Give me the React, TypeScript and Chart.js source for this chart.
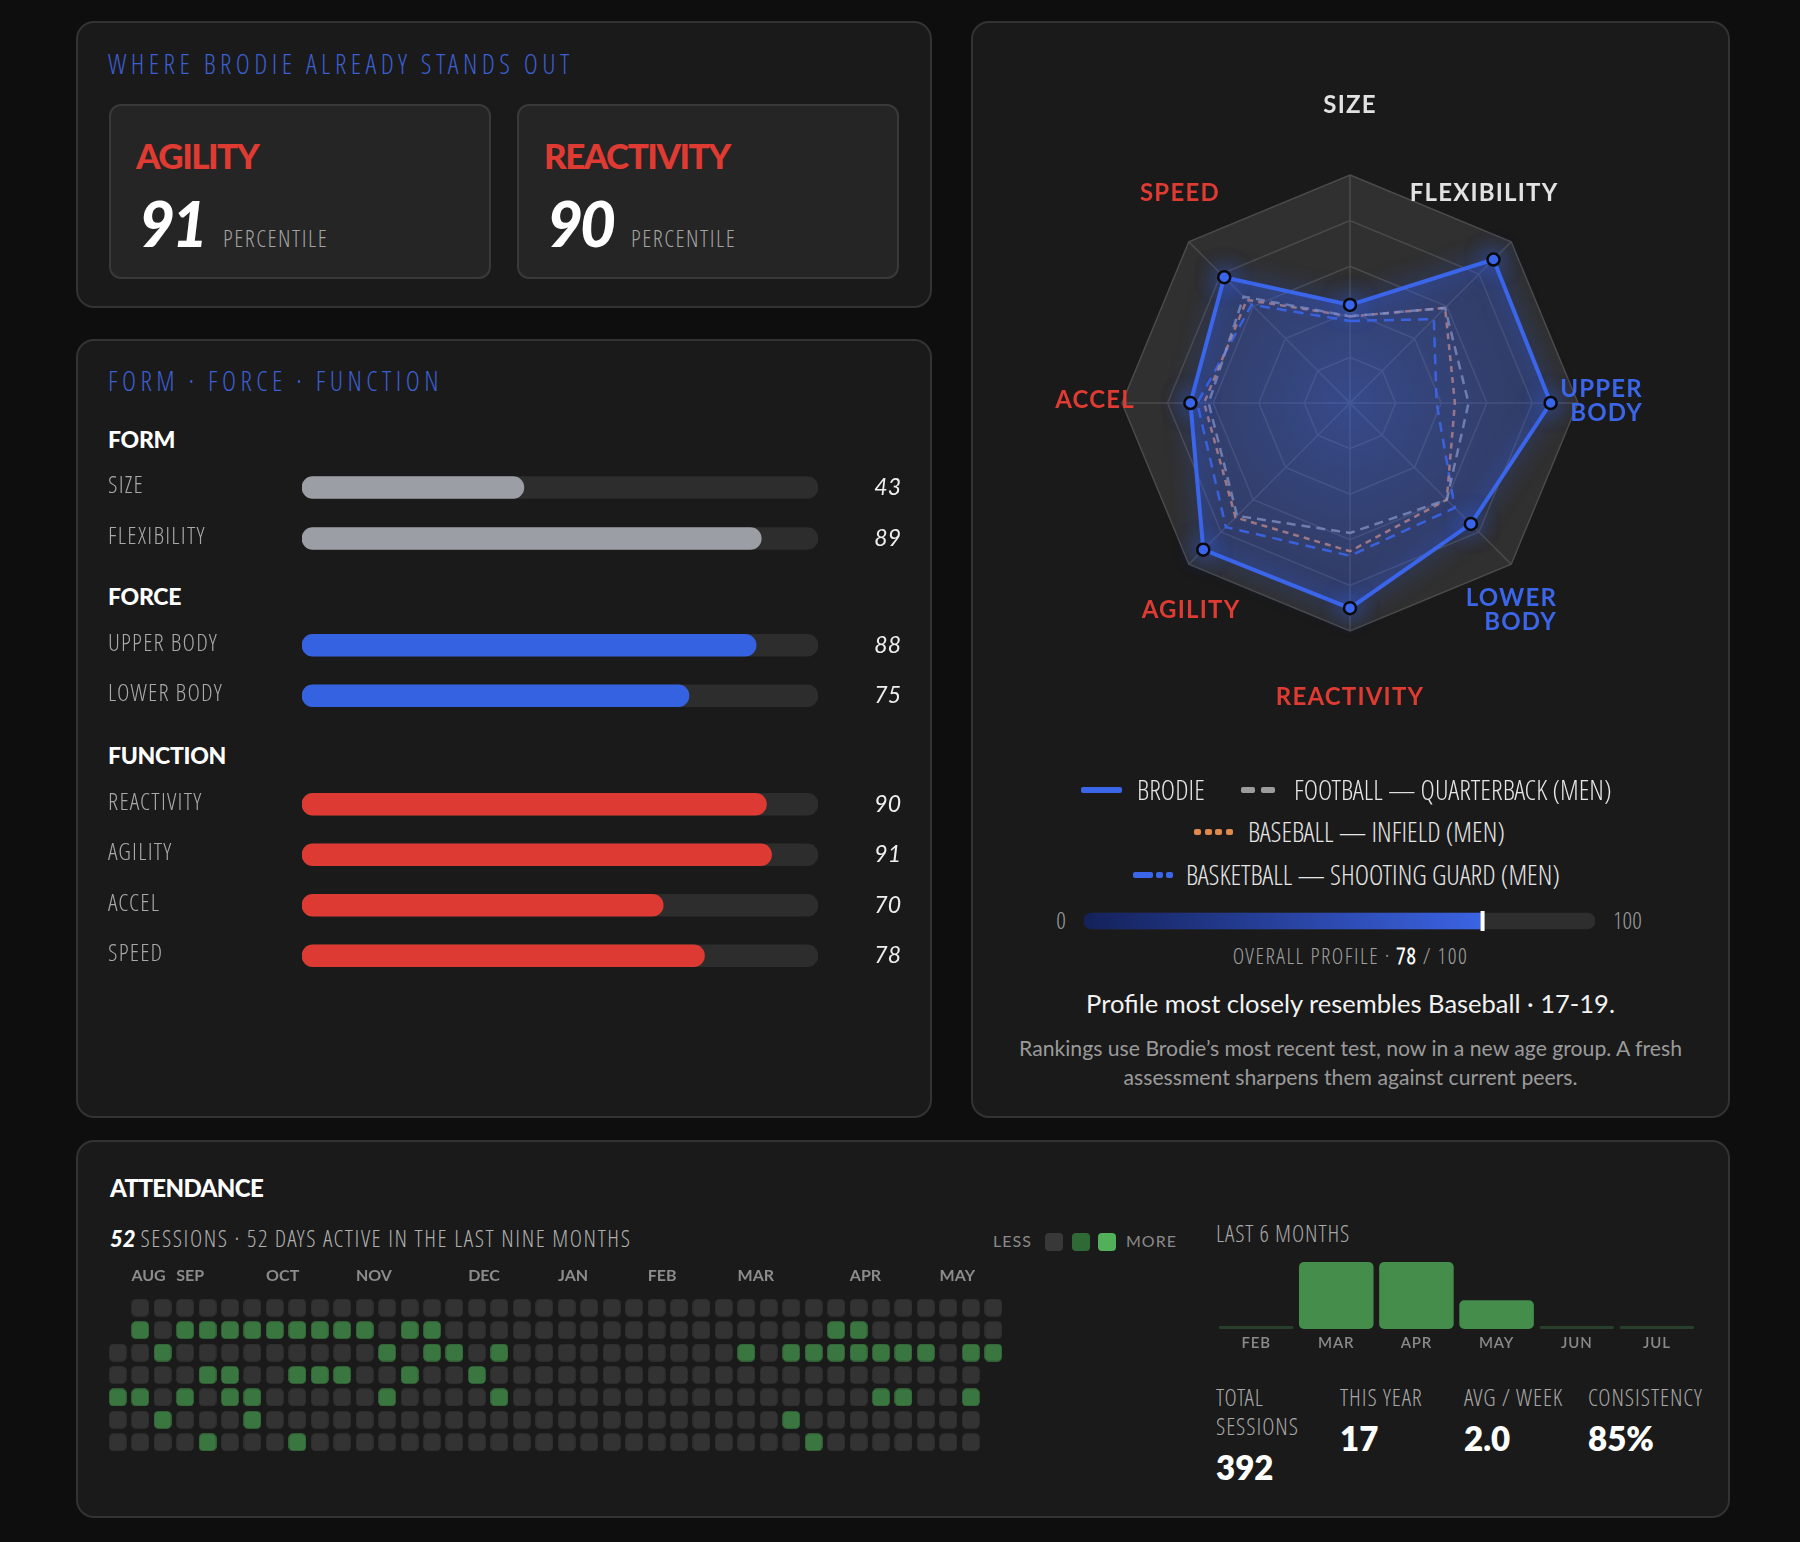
import React, { useEffect, useRef } from "react";
import { Chart, registerables } from "chart.js";

Chart.register(...registerables);

// ---------------- DATA ----------------
const KPI_LABELS = ["AGILITY", "REACTIVITY"];
const KPI_VALUES = [91, 90];

const FORM_LABELS = ["SIZE", "FLEXIBILITY"];
const FORM_VALUES = [43, 89];
const FORCE_LABELS = ["UPPER BODY", "LOWER BODY"];
const FORCE_VALUES = [88, 75];
const FUNCTION_LABELS = ["REACTIVITY", "AGILITY", "ACCEL", "SPEED"];
const FUNCTION_VALUES = [90, 91, 70, 78];

const RADAR_AXES = ["SIZE", "FLEXIBILITY", "UPPER BODY", "LOWER BODY", "REACTIVITY", "AGILITY", "ACCEL", "SPEED"];
const BRODIE = [43, 89, 88, 75, 90, 91, 70, 78];
const FOOTBALL_QB = [38, 59, 52, 60, 57, 70, 62, 66];
const BASEBALL_INF = [38, 59, 46, 60, 65, 71, 64, 64];
const BASKETBALL_SG = [36, 52, 38, 65, 67, 77, 67, 61];
const SERIES_NAMES = ["BRODIE", "FOOTBALL — QUARTERBACK (MEN)", "BASEBALL — INFIELD (MEN)", "BASKETBALL — SHOOTING GUARD (MEN)"];

const OVERALL_PROFILE = 78;

const HEAT_MONTHS = ["AUG", "SEP", "OCT", "NOV", "DEC", "JAN", "FEB", "MAR", "APR", "MAY"];
const HEAT_MONTH_WEEK = [1, 3, 7, 11, 16, 20, 24, 28, 33, 37];
const HEAT_WEEKS = 40;
const HEAT_FIRST_DAY_ROW = 2;
const HEAT_LAST_DAY_ROW = 2;
// active weeks for each weekday row (row 0 .. row 6)
const HEAT_ACTIVE_WEEKS_BY_DAY = [
  [],
  [1, 3, 4, 5, 6, 7, 8, 9, 10, 11, 13, 14, 32, 33],
  [2, 12, 14, 15, 17, 28, 30, 31, 32, 33, 34, 35, 36, 38, 39],
  [4, 5, 8, 9, 10, 13, 16],
  [0, 1, 3, 5, 6, 12, 17, 34, 35, 38],
  [2, 6, 30],
  [4, 8, 31],
];

const MONTHS6 = ["FEB", "MAR", "APR", "MAY", "JUN", "JUL"];
const SESSIONS6 = [0, 7, 7, 3, 0, 0];

const STAT_LABELS = ["TOTAL SESSIONS", "THIS YEAR", "AVG / WEEK", "CONSISTENCY"];
const STAT_VALUES = ["392", "17", "2.0", "85%"];

// ---------------- FONTS ----------------
const SANS = "Lato, 'Open Sans', 'Noto Sans', sans-serif";
Chart.defaults.font.family = SANS;
const COND = "'Open Sans Condensed Light', 'Roboto Condensed', 'Liberation Sans Narrow', Roboto, sans-serif";

// ---------------- STYLE / LAYOUT ----------------
const BLUE = "#3b66ea";
const RED = "#e03b32";
const TITLE_BLUE = "#3c5fd3";

const RADAR_LABEL_LAYOUT = [
  { fx: 0, fy: -1.305, align: "center", color: "#e2e2e2" },
  { fx: 0.588, fy: -0.921, align: "center", color: "#e2e2e2" },
  { fx: 1.285, fy: -0.007, align: "right", color: BLUE },
  { fx: 0.908, fy: 0.908, align: "right", color: BLUE },
  { fx: 0, fy: 1.29, align: "center", color: RED },
  { fx: -0.697, fy: 0.908, align: "center", color: RED },
  { fx: -1.118, fy: -0.01, align: "center", color: RED },
  { fx: -0.746, fy: -0.921, align: "center", color: RED },
];

function ChartCanvas({ x, y, w, h, make }: { x: number; y: number; w: number; h: number; make: () => any }) {
  const ref = useRef<HTMLCanvasElement | null>(null);
  useEffect(() => {
    if (!ref.current) return;
    const chart = new Chart(ref.current, make());
    return () => chart.destroy();
  }, []);
  return <canvas ref={ref} width={w} height={h} style={{ position: "absolute", left: x, top: y, width: w, height: h }} />;
}

function Txt({ x, cy, lh = 32, style, children }: { x: number; cy: number; lh?: number; style?: React.CSSProperties; children: any }) {
  return (
    <div style={{ position: "absolute", left: x, top: cy - lh / 2, height: lh, lineHeight: lh + "px", whiteSpace: "nowrap", ...style }}>
      {children}
    </div>
  );
}

const cardStyle = (x: number, y: number, w: number, h: number, bg = "#1a1a1a", border = "#333333", r = 18): React.CSSProperties => ({
  position: "absolute",
  left: x,
  top: y,
  width: w,
  height: h,
  boxSizing: "border-box",
  background: bg,
  border: `2px solid ${border}`,
  borderRadius: r,
});

// ---------------- CHART CONFIGS ----------------
function barLabelsPlugin(labels: string[], values: number[]) {
  return {
    id: "barLabels",
    afterDraw(chart: any) {
      const { ctx, scales, width } = chart;
      ctx.save();
      ctx.textBaseline = "middle";
      labels.forEach((lab, i) => {
        const y = scales.y.getPixelForValue(i);
        ctx.save();
        ctx.font = `300 24px ${COND}`;
        (ctx as any).letterSpacing = "1.2px";
        ctx.fillStyle = "#a9a9a9";
        ctx.textAlign = "left";
        ctx.fillText(lab, 0, y - 1);
        ctx.restore();
        ctx.font = `italic 400 23px ${SANS}`;
        ctx.fillStyle = "#efefef";
        ctx.textAlign = "right";
        ctx.fillText(String(values[i]), width - 6, y);
      });
      ctx.restore();
    },
  };
}

function barGroupConfig(labels: string[], values: number[], color: string) {
  return () => ({
    type: "bar",
    data: {
      labels,
      datasets: [
        { data: values, backgroundColor: color, barThickness: 22, borderRadius: 11, borderSkipped: false, grouped: false, order: 0 },
        { data: labels.map(() => 100), backgroundColor: "#2d2d2d", barThickness: 22, borderRadius: 11, borderSkipped: false, grouped: false, order: 1 },
      ],
    },
    options: {
      indexAxis: "y",
      animation: false,
      responsive: false,
      events: [],
      layout: { padding: { left: 194, right: 89, top: 0, bottom: 0 }, autoPadding: false },
      plugins: { legend: { display: false }, tooltip: { enabled: false } },
      scales: {
        x: { display: false, min: 0, max: 100 },
        y: { display: false },
      },
    },
    plugins: [barLabelsPlugin(labels, values)],
  });
}

const radarGlow = {
  id: "radarGlow",
  beforeDatasetDraw(chart: any, args: any) {
    if (args.index === 0) {
      chart.ctx.save();
      chart.ctx.shadowColor = "rgba(50,100,255,0.8)";
      chart.ctx.shadowBlur = 22;
    }
  },
  afterDatasetDraw(chart: any, args: any) {
    if (args.index === 0) chart.ctx.restore();
  },
};

const radarLabels = {
  id: "radarLabels",
  afterDraw(chart: any) {
    const { ctx } = chart;
    const r = chart.scales.r;
    ctx.save();
    ctx.font = `700 24px ${SANS}`;
    (ctx as any).letterSpacing = "1.2px";
    ctx.textBaseline = "middle";
    RADAR_AXES.forEach((label, i) => {
      const L = RADAR_LABEL_LAYOUT[i];
      const x = r.xCenter + L.fx * r.drawingArea;
      const y = r.yCenter + L.fy * r.drawingArea;
      ctx.fillStyle = L.color;
      ctx.textAlign = L.align;
      const lines = label.includes("BODY") ? label.split(" ") : [label];
      const lh = 24;
      lines.forEach((ln, k) => ctx.fillText(ln, x, y + (k - (lines.length - 1) / 2) * lh));
    });
    ctx.restore();
  },
};

function radarConfig() {
  return {
    type: "radar",
    data: {
      labels: RADAR_AXES,
      datasets: [
        {
          label: SERIES_NAMES[0],
          data: BRODIE,
          borderColor: BLUE,
          borderWidth: 4,
          fill: true,
          backgroundColor: (c: any) => {
            const chart = c.chart;
            const r = chart.scales && chart.scales.r;
            if (!r || !r.drawingArea) return "rgba(55,95,225,0.35)";
            const g = chart.ctx.createRadialGradient(r.xCenter, r.yCenter, 0, r.xCenter, r.yCenter, r.drawingArea);
            g.addColorStop(0, "rgba(62,102,235,0.48)");
            g.addColorStop(1, "rgba(50,85,215,0.27)");
            return g;
          },
          pointRadius: 6,
          pointBackgroundColor: BLUE,
          pointBorderColor: "#0a0a0a",
          pointBorderWidth: 2.5,
          order: 0,
        },
        { label: SERIES_NAMES[1], data: FOOTBALL_QB, borderColor: "rgba(175,175,182,0.75)", borderDash: [9, 6], borderWidth: 2.5, fill: false, pointRadius: 0, order: 1 },
        { label: SERIES_NAMES[2], data: BASEBALL_INF, borderColor: "rgba(232,142,90,0.9)", borderDash: [6, 5], borderWidth: 2.5, fill: false, pointRadius: 0, order: 2 },
        { label: SERIES_NAMES[3], data: BASKETBALL_SG, borderColor: "rgba(62,108,240,0.9)", borderDash: [10, 7], borderWidth: 2.5, fill: false, pointRadius: 0, order: 3 },
      ],
    },
    options: {
      animation: false,
      responsive: false,
      events: [],
      layout: { padding: 152 },
      elements: { line: { tension: 0 } },
      plugins: { legend: { display: false }, tooltip: { enabled: false } },
      scales: {
        r: {
          min: 0,
          max: 100,
          backgroundColor: "#303030",
          ticks: { display: false, stepSize: 20 },
          grid: { color: "#4b4b4b", lineWidth: 1.5 },
          angleLines: { color: "#4b4b4b", lineWidth: 1.5 },
          pointLabels: { display: false },
        },
      },
    },
    plugins: [radarGlow, radarLabels],
  };
}

const profileMarker = {
  id: "profileMarker",
  afterDatasetsDraw(chart: any) {
    const { ctx, chartArea } = chart;
    const x = chart.scales.x.getPixelForValue(OVERALL_PROFILE);
    const cy = (chartArea.top + chartArea.bottom) / 2;
    ctx.save();
    ctx.fillStyle = "#ffffff";
    ctx.fillRect(x - 2, cy - 10, 4, 20);
    ctx.restore();
  },
};

function profileConfig() {
  return {
    type: "bar",
    data: {
      labels: ["OVERALL"],
      datasets: [
        {
          data: [OVERALL_PROFILE],
          backgroundColor: (c: any) => {
            const chart = c.chart;
            const ca = chart.chartArea;
            if (!ca) return BLUE;
            const x1 = chart.scales.x.getPixelForValue(OVERALL_PROFILE);
            const g = chart.ctx.createLinearGradient(ca.left, 0, x1, 0);
            g.addColorStop(0, "#14215a");
            g.addColorStop(1, "#3b63e3");
            return g;
          },
          barThickness: 16,
          borderRadius: 8,
          borderSkipped: "end",
          grouped: false,
          order: 0,
        },
        { data: [100], backgroundColor: "#2e2e2e", barThickness: 16, borderRadius: 8, borderSkipped: false, grouped: false, order: 1 },
      ],
    },
    options: {
      indexAxis: "y",
      animation: false,
      responsive: false,
      events: [],
      layout: { padding: 0, autoPadding: false },
      plugins: { legend: { display: false }, tooltip: { enabled: false } },
      scales: { x: { display: false, min: 0, max: 100 }, y: { display: false } },
    },
    plugins: [profileMarker],
  };
}

function cellImage(color: string) {
  const c = document.createElement("canvas");
  c.width = 18;
  c.height = 18;
  const g = c.getContext("2d")!;
  g.fillStyle = color;
  g.beginPath();
  (g as any).roundRect(0.25, 0.25, 17.5, 17.5, 4.5);
  g.fill();
  return c;
}

const heatMonths = {
  id: "heatMonths",
  afterDraw(chart: any) {
    const { ctx, chartArea, scales } = chart;
    ctx.save();
    ctx.font = `700 16px ${SANS}`;
    ctx.fillStyle = "#8c8c8c";
    ctx.textAlign = "left";
    ctx.textBaseline = "middle";
    HEAT_MONTHS.forEach((m, i) => {
      ctx.fillText(m, scales.x.getPixelForValue(HEAT_MONTH_WEEK[i] - 0.39), chartArea.top - 20.5);
    });
    ctx.restore();
  },
};

function heatConfig() {
  const idle: { x: number; y: number }[] = [];
  const active: { x: number; y: number }[] = [];
  for (let w = 0; w < HEAT_WEEKS; w++) {
    for (let d = 0; d < 7; d++) {
      if (w === 0 && d < HEAT_FIRST_DAY_ROW) continue;
      if (w === HEAT_WEEKS - 1 && d > HEAT_LAST_DAY_ROW) continue;
      (HEAT_ACTIVE_WEEKS_BY_DAY[d].includes(w) ? active : idle).push({ x: w, y: d });
    }
  }
  return {
    type: "scatter",
    data: {
      datasets: [
        { data: idle, pointStyle: cellImage("#333333"), pointRadius: 9 },
        { data: active, pointStyle: cellImage("#3a763f"), pointRadius: 9 },
      ],
    },
    options: {
      animation: false,
      responsive: false,
      events: [],
      layout: { padding: { left: 10.5, right: 5.5, top: 36.5, bottom: 6.5 }, autoPadding: false },
      plugins: { legend: { display: false }, tooltip: { enabled: false } },
      scales: {
        x: { type: "linear", min: -0.5, max: HEAT_WEEKS - 0.5, display: false },
        y: { type: "linear", min: -0.5, max: 6.5, reverse: true, display: false },
      },
    },
    plugins: [heatMonths],
  };
}

const monthAxis = {
  id: "monthAxis",
  afterDraw(chart: any) {
    const { ctx, chartArea, scales } = chart;
    ctx.save();
    ctx.font = `600 15px ${SANS}`;
    (ctx as any).letterSpacing = "0.8px";
    ctx.fillStyle = "#8a8a8a";
    ctx.textAlign = "center";
    ctx.textBaseline = "middle";
    MONTHS6.forEach((m, i) => ctx.fillText(m, scales.x.getPixelForValue(i), chartArea.bottom + 14.5));
    ctx.restore();
  },
};

function monthsConfig() {
  return {
    type: "bar",
    data: {
      labels: MONTHS6,
      datasets: [
        {
          data: SESSIONS6,
          backgroundColor: (c: any) => (c.raw === 0 ? "#283f2b" : "#448d4b"),
          borderRadius: 5,
          borderSkipped: false,
          minBarLength: 3,
          barPercentage: 0.93,
          categoryPercentage: 1,
        },
      ],
    },
    options: {
      animation: false,
      responsive: false,
      events: [],
      layout: { padding: { left: 10, right: 10, top: 12, bottom: 31 }, autoPadding: false },
      plugins: { legend: { display: false }, tooltip: { enabled: false } },
      scales: {
        x: { display: false },
        y: { display: false, min: 0, max: 7 },
      },
    },
    plugins: [monthAxis],
  };
}

// ---------------- UI PIECES ----------------
function Swatch({ kind }: { kind: number }) {
  const seg = (w: number, color: string, ml = 0) => <div style={{ width: w, height: 6, background: color, borderRadius: 2, marginLeft: ml }} />;
  if (kind === 0) return <div style={{ display: "flex" }}>{seg(41, BLUE)}</div>;
  if (kind === 1) return <div style={{ display: "flex" }}>{seg(14, "#9c9c9c")}{seg(14, "#9c9c9c", 6)}</div>;
  if (kind === 2)
    return (
      <div style={{ display: "flex" }}>
        {seg(7, "#e0894e")}{seg(7, "#e0894e", 3.5)}{seg(7, "#e0894e", 3.5)}{seg(7, "#e0894e", 3.5)}
      </div>
    );
  return <div style={{ display: "flex" }}>{seg(20, BLUE)}{seg(7, BLUE, 3)}{seg(7, BLUE, 3)}</div>;
}

// legend item placement: [series, swatchX, textX, centerY]
const LEGEND_PLACES = [
  [0, 1081, 1137, 790],
  [1, 1241, 1294, 790],
  [2, 1194, 1248, 832],
  [3, 1133, 1186, 875],
];

const titleCond: React.CSSProperties = { fontFamily: COND, fontWeight: 300, fontSize: 27, color: TITLE_BLUE, letterSpacing: 4.4 };
const heavy: React.CSSProperties = { fontFamily: SANS, fontWeight: 900, color: "#ffffff" };

export default function App() {
  if (typeof document !== "undefined") {
    document.body.style.margin = "0";
    document.body.style.background = "#0e0e0e";
  }
  const statX = [1216, 1340, 1464, 1588];
  const statLabel: React.CSSProperties = { fontFamily: COND, fontWeight: 300, fontSize: 23.5, letterSpacing: 0.9, color: "#a8a8a8", lineHeight: "29px", whiteSpace: "nowrap" };
  return (
    <div style={{ position: "relative", width: 1800, height: 1542, background: "#0e0e0e", overflow: "hidden", fontFamily: COND, color: "#ddd" }}>
      {/* cards */}
      <div style={cardStyle(76, 21, 856, 287)} />
      <div style={cardStyle(76, 339, 856, 779)} />
      <div style={cardStyle(971, 21, 759, 1097)} />
      <div style={cardStyle(76, 1140, 1654, 378)} />

      {/* ---- top-left: standouts ---- */}
      <Txt x={108} cy={63.5} style={titleCond}>WHERE BRODIE ALREADY STANDS OUT</Txt>
      {KPI_LABELS.map((lab, i) => {
        const ox = i * 408;
        return (
          <React.Fragment key={lab}>
            <div style={cardStyle(109 + ox, 104, 382, 175, "#252525", "#393939", 12)} />
            <Txt x={136 + ox} cy={155} lh={40} style={{ fontFamily: SANS, fontWeight: 900, fontSize: 35, letterSpacing: -1.5, color: RED }}>
              {lab}
            </Txt>
            <Txt x={139 + ox} cy={222.5} lh={66} style={{ ...heavy, fontSize: 62, fontStyle: "italic", letterSpacing: -3 }}>
              {KPI_VALUES[i]}
            </Txt>
            <Txt x={223 + ox} cy={238} style={{ fontFamily: COND, fontWeight: 300, fontSize: 23.5, letterSpacing: 1.5, color: "#a3a3a3" }}>PERCENTILE</Txt>
          </React.Fragment>
        );
      })}

      {/* ---- middle-left: bars ---- */}
      <Txt x={108} cy={381} style={titleCond}>FORM · FORCE · FUNCTION</Txt>
      <Txt x={108} cy={438.5} style={{ ...heavy, fontSize: 23, letterSpacing: -0.3 }}>FORM</Txt>
      <Txt x={108} cy={596} style={{ ...heavy, fontSize: 23, letterSpacing: -0.3 }}>FORCE</Txt>
      <Txt x={108} cy={755} style={{ ...heavy, fontSize: 23, letterSpacing: -0.3 }}>FUNCTION</Txt>
      <ChartCanvas x={108} y={462} w={799} h={102} make={barGroupConfig(FORM_LABELS, FORM_VALUES, "#9b9ea4")} />
      <ChartCanvas x={108} y={620} w={799} h={101} make={barGroupConfig(FORCE_LABELS, FORCE_VALUES, "#3462e0")} />
      <ChartCanvas x={108} y={779} w={799} h={202} make={barGroupConfig(FUNCTION_LABELS, FUNCTION_VALUES, "#dc3a33")} />

      {/* ---- right: radar ---- */}
      <ChartCanvas x={970} y={23} w={760} h={760} make={radarConfig} />
      {LEGEND_PLACES.map(([k, sx, tx, cy]) => (
        <React.Fragment key={k}>
          <div style={{ position: "absolute", left: sx, top: cy - 3 }}><Swatch kind={k} /></div>
          <Txt x={tx} cy={cy} style={{ fontFamily: COND, fontWeight: 300, fontSize: 27.5, color: "#e6e6e6" }}>{SERIES_NAMES[k]}</Txt>
        </React.Fragment>
      ))}

      <Txt x={1050} cy={920} style={{ fontFamily: COND, fontWeight: 300, fontSize: 24, color: "#9a9a9a", width: 22, textAlign: "center" }}>0</Txt>
      <ChartCanvas x={1084} y={909} w={511} h={24} make={profileConfig} />
      <Txt x={1613} cy={920} style={{ fontFamily: COND, fontWeight: 300, fontSize: 24, color: "#9a9a9a" }}>100</Txt>
      <Txt x={971} cy={955} style={{ width: 759, textAlign: "center", fontFamily: COND, fontWeight: 300, fontSize: 22, color: "#a0a0a0", letterSpacing: 1.5 }}>
        OVERALL PROFILE · <b style={{ color: "#ffffff", fontWeight: 700 }}>{OVERALL_PROFILE}</b> / 100
      </Txt>
      <Txt x={971} cy={1003} lh={34} style={{ width: 759, textAlign: "center", fontFamily: SANS, fontSize: 25.5, color: "#f2f2f2" }}>
        Profile most closely resembles Baseball · 17-19.
      </Txt>
      <Txt x={971} cy={1048} lh={29} style={{ width: 759, textAlign: "center", fontFamily: SANS, fontSize: 21.2, color: "#9a9a9a" }}>
        Rankings use Brodie’s most recent test, now in a new age group. A fresh
      </Txt>
      <Txt x={971} cy={1077} lh={29} style={{ width: 759, textAlign: "center", fontFamily: SANS, fontSize: 21.2, color: "#9a9a9a" }}>
        assessment sharpens them against current peers.
      </Txt>

      {/* ---- bottom: attendance ---- */}
      <Txt x={110} cy={1188} lh={34} style={{ ...heavy, fontSize: 24, letterSpacing: -0.6 }}>ATTENDANCE</Txt>
      <Txt x={110} cy={1238} style={{ fontFamily: COND, fontWeight: 300, fontSize: 23.5, letterSpacing: 1.55, color: "#b0b0b0" }}>
        <span style={{ fontFamily: SANS, fontWeight: 900, fontStyle: "italic", color: "#ffffff", fontSize: 22, letterSpacing: 0, marginRight: 5 }}>52</span>
        SESSIONS · 52 DAYS ACTIVE IN THE LAST NINE MONTHS
      </Txt>
      <Txt x={993} cy={1241} style={{ fontFamily: SANS, fontSize: 16, color: "#8a8a8a", letterSpacing: 1 }}>LESS</Txt>
      <div style={{ position: "absolute", left: 1045, top: 1233, width: 18, height: 18, borderRadius: 4, background: "#383838" }} />
      <div style={{ position: "absolute", left: 1072, top: 1233, width: 18, height: 18, borderRadius: 4, background: "#2f6a36" }} />
      <div style={{ position: "absolute", left: 1098, top: 1233, width: 18, height: 18, borderRadius: 4, background: "#52b05a" }} />
      <Txt x={1126} cy={1241} style={{ fontFamily: SANS, fontSize: 16, color: "#8a8a8a", letterSpacing: 1 }}>MORE</Txt>
      <ChartCanvas x={96} y={1260} w={914} h={200} make={heatConfig} />

      <Txt x={1216} cy={1233} style={{ fontFamily: COND, fontWeight: 300, fontSize: 23.5, letterSpacing: 0.85, color: "#a8a8a8" }}>LAST 6 MONTHS</Txt>
      <ChartCanvas x={1206} y={1250} w={501} h={110} make={monthsConfig} />

      {STAT_LABELS.map((lab, i) => (
        <div key={lab} style={{ position: "absolute", left: statX[i], top: 1383, width: 112 }}>
          <div style={{ ...statLabel, height: i === 0 ? 58 : 29 }}>
            {i === 0 ? (
              <>
                <div>{lab.split(" ")[0]}</div>
                <div>{lab.split(" ")[1]}</div>
              </>
            ) : (
              lab
            )}
          </div>
          <div style={{ ...heavy, fontWeight: 800, fontSize: 33, lineHeight: "33px", marginTop: 10, whiteSpace: "nowrap" }}>{STAT_VALUES[i]}</div>
        </div>
      ))}
    </div>
  );
}
